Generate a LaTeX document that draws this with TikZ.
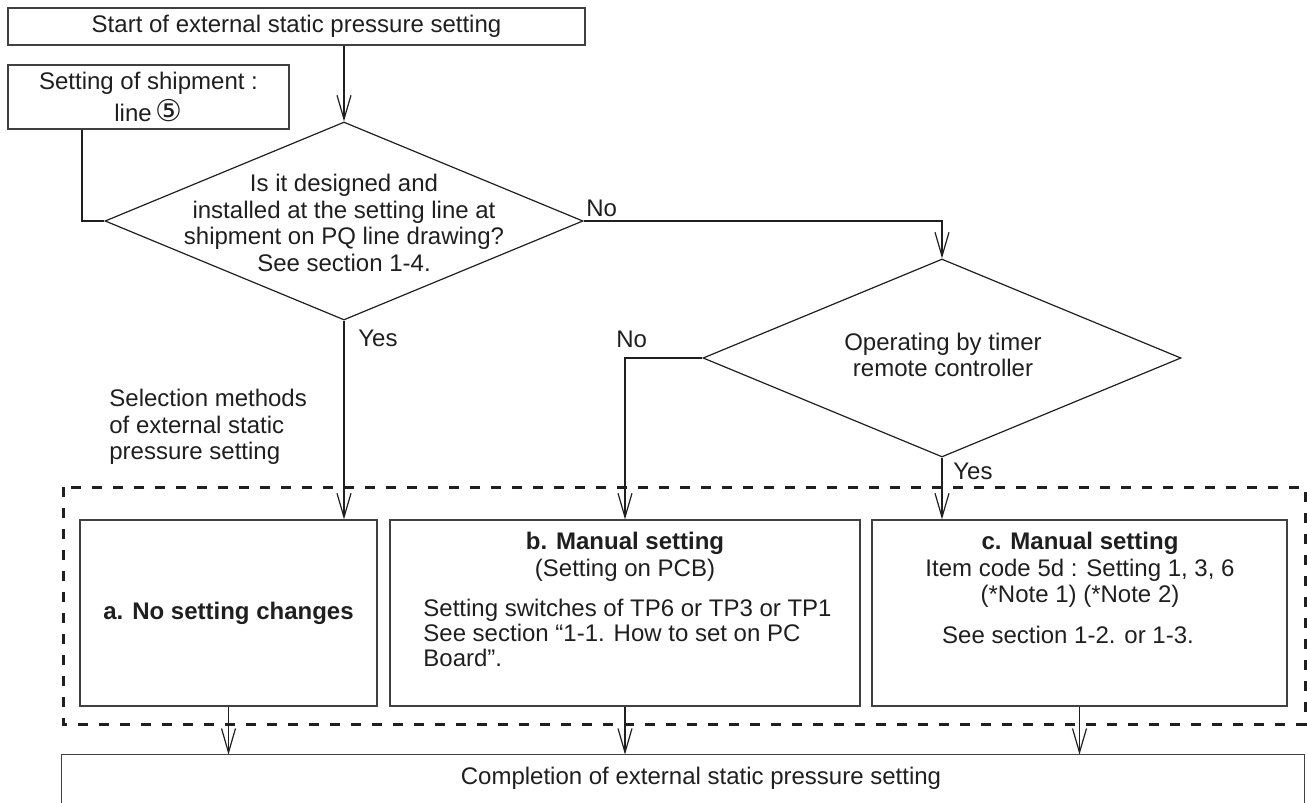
\documentclass[tikz,border=0pt]{standalone}
\usepackage{fontspec}
\setmainfont{Liberation Sans}
\newfontfamily\circfont{DejaVu Sans}
\usetikzlibrary{shapes.geometric,arrows.meta,positioning}

\begin{document}
\begin{tikzpicture}[
    x=0.5pt, y=-0.5pt,
    color=black!88,
    font=\fontsize{12}{13.3}\selectfont,
    box/.style={draw=black!75, line width=0.6pt, inner sep=0pt},
    decision/.style={draw, diamond, line width=0.6pt, inner sep=0pt, minimum width=239pt, minimum height=99pt},
    arrow/.style={-{Straight Barb[length=12pt,width=7pt]}, line width=0.6pt},
    link/.style={line width=0.6pt},
    group/.style={line width=1.5pt, dash pattern=on 5pt off 5.5pt},
    lbl/.style={inner sep=0pt, anchor=base west}
]
\useasboundingbox (0,0) rectangle (1307,803);

% Start and shipment setting
\node[box, minimum width=288.5pt, minimum height=18.5pt] (start) at (296.5,26.5) {Start of external static pressure setting};
\node[box, minimum width=140.5pt, minimum height=32pt, align=center] (ship) at (148.5,97) {Setting of shipment :\\[1pt]line\,{\circfont\fontsize{15}{15}\selectfont ⑤}};

% Decisions
\node[decision] (q1) at (344,221) {};
\node[align=center] (q1txt) at (344,223) {Is it designed and\\installed at the setting line at\\shipment on PQ line drawing?\\See section 1-4.};
\node[decision] (q2) at (942,358) {};
\node[align=center] (q2txt) at (943,355) {Operating by timer\\remote controller};

% Selection methods
\node[anchor=west, align=left, inner sep=0pt] (select) at (109,427) {Selection methods\\of external static\\pressure setting};
\draw[group] (63,487) rectangle (1305,724);

% a / b / c
\node[box, minimum width=148.5pt, minimum height=93pt] (boxa) at (228.5,613) {\textbf{a. No setting changes}};

\node[box, minimum width=235pt, minimum height=93pt] (boxb) at (625,613) {};
\node[align=center] (btop) at (625,556.5) {\textbf{b. Manual setting}\\(Setting on PCB)};
\node[anchor=west, align=left, inner sep=0pt, font=\fontsize{12}{12.3}\selectfont] (bbody) at (423,633) {Setting switches of TP6 or TP3 or TP1\\See section “1-1. How to set on PC\\Board”.};

\node[box, minimum width=207.5pt, minimum height=93pt] (boxc) at (1079.5,613) {};
\node[align=center] (ctop) at (1080,570) {\textbf{c. Manual setting}\\Item code 5d : Setting 1, 3, 6\\(*Note 1) (*Note 2)};
\node (cfoot) at (1068,635) {See section 1-2. or 1-3.};

% Completion
\node[minimum width=621pt, minimum height=23pt, inner sep=0pt] (done) at (683,778) {};
\node (donetxt) at (701,778) {Completion of external static pressure setting};
\draw[box] ([yshift=-6pt]done.south west) |- (done.north east) -- ([yshift=-6pt]done.south east);

% Arrows
\draw[arrow] (start.south -| q1.north) -- (q1.north);
\draw[link] (ship.south -| 82,0) |- (q1.west);
\draw[arrow] (q1.east) -| (q2.north);
\draw[arrow] (q1.south) -- (q1.south |- boxa.north);
\draw[arrow] (q2.west) -| (boxb.north);
\draw[arrow] (q2.south) -- (q2.south |- boxc.north);
\draw[arrow] (boxa.south) -- (boxa.south |- done.north);
\draw[arrow] (boxb.south) -- (boxb.south |- done.north);
\draw[arrow] (boxc.south) -- (boxc.south |- done.north);

% Yes / No
\node[lbl] (no1) at (586,216) {No};
\node[lbl] (yes1) at (358,346) {Yes};
\node[lbl] (no2) at (616,347) {No};
\node[lbl] (yes2) at (953,479) {Yes};

\end{tikzpicture}
\end{document}
